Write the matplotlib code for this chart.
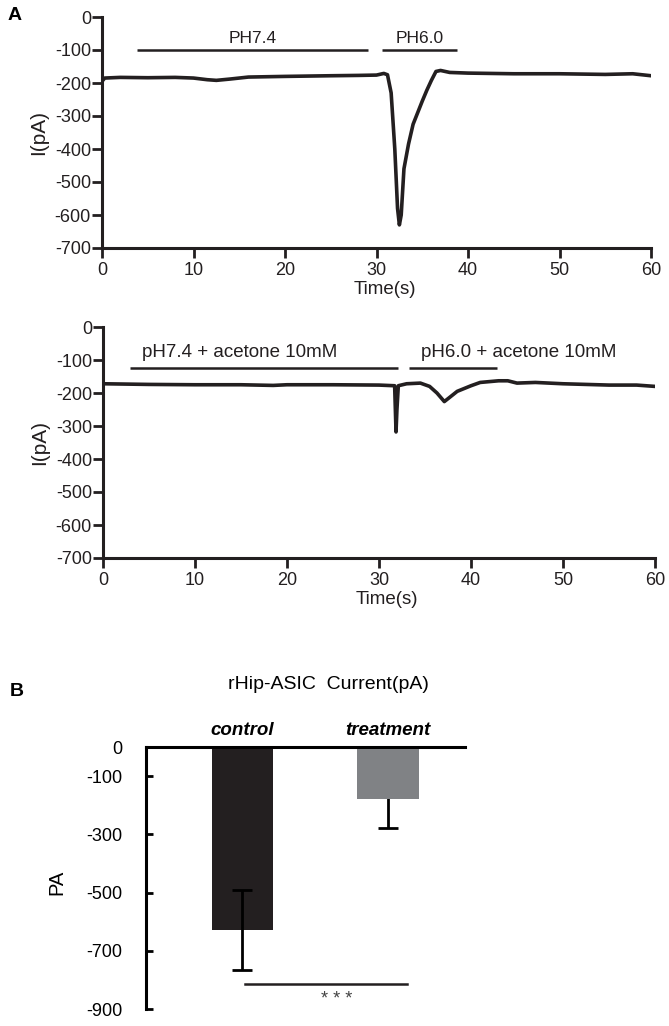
import matplotlib
matplotlib.use('Agg')
import matplotlib.pyplot as plt

plt.rcParams['font.family'] = ['Liberation Sans', 'DejaVu Sans']
plt.rcParams['axes.unicode_minus'] = False

# panel A, top trace (time s, current pA)
t_ph = [0, 0.3, 2, 5, 8, 10, 11.5, 12.5, 14, 16, 20, 25, 28, 30, 30.8, 31.2,
        31.6, 32.0, 32.3, 32.5, 32.7, 33.0, 33.5, 34.0, 35.0, 35.5, 36.0, 36.5, 37.0,
        38, 40, 45, 50, 55, 58, 60]
i_ph = [-195, -185, -183, -184, -183, -185, -190, -192, -188, -182, -180, -178,
        -177, -176, -171, -175, -230, -400, -580, -630, -600, -460, -385, -325,
        -255, -222, -192, -165, -162, -168, -170, -172, -172, -174, -172, -178]

# panel A, bottom trace with acetone
t_ac = [0, 5, 10, 15, 18.5, 20, 25, 30, 31.7, 31.85, 31.95, 32.1, 33, 34.5, 35.5,
        36.3, 37.1, 37.6, 38.5, 40, 41, 43, 44, 45, 47, 50, 55, 58, 60]
i_ac = [-172, -174, -175, -175, -177, -175, -175, -176, -178, -318, -250, -178,
        -172, -170, -180, -200, -226, -215, -195, -178, -168, -163, -163, -170,
        -168, -172, -176, -176, -180]

# solution bars: (start, end, y, label)
bars_top = [(3.8, 29.1, -100, 'PH7.4'), (30.6, 38.8, -100, 'PH6.0')]
bars_bot = [(2.9, 32.1, -124, 'pH7.4 + acetone 10mM'), (33.3, 42.8, -124, 'pH6.0 + acetone 10mM')]

# panel B
groups = ['control', 'treatment']
means = [-628, -180]
errs = [138, 97]
colors = ['#231f20', '#808285']

W, H = 669, 1026
fig = plt.figure(figsize=(W / 100, H / 100), dpi=100)


def box(l, r, t, b):
    return [l / W, 1 - b / H, (r - l) / W, (b - t) / H]


def trace_axes(pos, t, i, bars, center_text, fs):
    ax = fig.add_axes(pos)
    ax.plot(t, i, color='#231f20', lw=2.6, solid_joinstyle='round')
    for x0, x1, y, lab in bars:
        ax.plot([x0, x1], [y, y], color='#231f20', lw=1.8, solid_capstyle='butt')
        if center_text:
            ax.text((x0 + x1) / 2, y + 12, lab, ha='center', va='bottom', fontsize=fs, color='#231f20')
        else:
            ax.text(x0 + 1.3, y + 20, lab, ha='left', va='bottom', fontsize=fs, color='#231f20')
    ax.set_xlim(0, 60)
    ax.set_ylim(-700, 0)
    ax.set_xticks(range(0, 61, 10))
    ax.set_yticks(range(-700, 1, 100))
    for s in ['top', 'right']:
        ax.spines[s].set_visible(False)
    for s in ['left', 'bottom']:
        ax.spines[s].set_linewidth(2.2)
        ax.spines[s].set_color('#231f20')
    ax.tick_params(direction='out', length=7, width=2, color='#231f20', labelsize=13, labelcolor='#231f20')
    ax.tick_params(axis='y', pad=1)
    ax.tick_params(axis='x', pad=3)
    ax.set_ylabel('I(pA)', fontsize=15, labelpad=5, color='#231f20')
    ax.set_xlabel('Time(s)', fontsize=13.5, color='#231f20')
    ax.xaxis.set_label_coords(0.515, -0.145)
    return ax


ax1 = trace_axes(box(102, 651, 17, 248), t_ph, i_ph, bars_top, True, 12.5)
ax2 = trace_axes(box(103, 655, 327, 558), t_ac, i_ac, bars_bot, False, 13.5)

fig.text(8 / W, 1 - 15 / H, 'A', fontsize=14, fontweight='bold', va='center')
fig.text(17 / W, 1 - 692 / H, 'B', fontsize=14, fontweight='bold', ha='center', va='center')

ax3 = fig.add_axes(box(146, 465, 747, 1009))
x = range(len(groups))
ax3.bar(x, means, width=0.42, color=colors, zorder=2)
# control error bar drawn over the bar, treatment one behind it (upper half hidden)
ax3.errorbar([0], [means[0]], yerr=[errs[0]], fmt='none', ecolor='black', elinewidth=2, capsize=7, capthick=2, zorder=3)
ax3.errorbar([1], [means[1]], yerr=[errs[1]], fmt='none', ecolor='black', elinewidth=2, capsize=7, capthick=2, zorder=1)
ax3.set_xlim(-0.663, 1.529)
ax3.set_ylim(-900, 0)
ax3.set_yticks([0, -100, -300, -500, -700, -900])
ax3.set_xticks([])
for s in ['right', 'bottom']:
    ax3.spines[s].set_visible(False)
for s in ['left', 'top']:
    ax3.spines[s].set_linewidth(2.2)
    ax3.spines[s].set_color('black')
ax3.tick_params(axis='y', direction='in', length=5, width=2, pad=17, labelsize=13)
for g, xi in zip(groups, x):
    ax3.text(xi, 58, g, ha='center', va='center', fontsize=13.5, fontweight='bold', style='italic', clip_on=False)
ax3.text(0.588, 216, 'rHip-ASIC  Current(pA)', ha='center', va='center', fontsize=14, clip_on=False)
ax3.plot([0.017, 1.13], [-815, -815], color='#231f20', lw=1.8, clip_on=False)
ax3.text(0.65, -868, '* * *', ha='center', va='center', fontsize=13, color='#444444')
ax3.set_ylabel('PA', fontsize=14.5)
ax3.yaxis.set_label_coords(-0.25, 0.485)

fig.savefig('out.png', dpi=100)
